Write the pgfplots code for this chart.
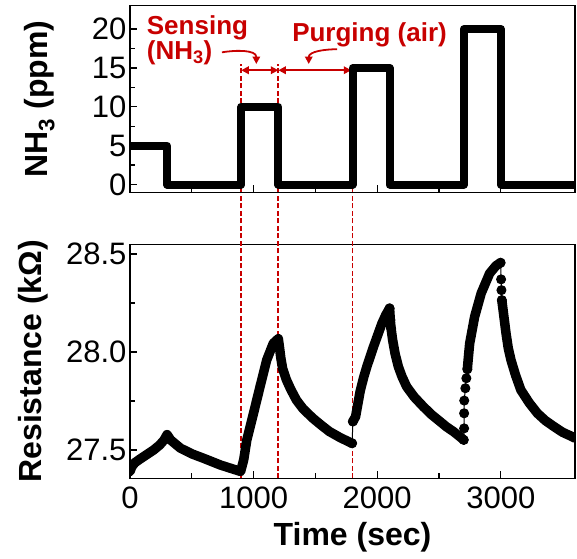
\documentclass[border=0pt]{standalone}
\usepackage{pgfplots}
\pgfplotsset{compat=1.18}
\usepackage{fontspec}
\setmainfont{Liberation Sans}
\usetikzlibrary{arrows.meta}
\definecolor{myred}{RGB}{200,0,0}

\begin{document}
\begin{tikzpicture}
\pgfplotsset{
  every axis/.append style={
    scale only axis, width=445pt,
    xmin=0, xmax=3600,
    axis line style={line width=1.2pt},
    every tick/.style={line width=1.2pt, black},
    major tick length=7pt, minor tick length=5pt,
    tick align=inside, tick pos=left,
    /pgf/number format/assume math mode=true,
    /pgf/number format/1000 sep={},
    tick label style={font=\fontsize{31}{36}\selectfont},
    label style={font=\bfseries\fontsize{32}{38}\selectfont},
    xtick={0,1000,2000,3000}, minor x tick num=1,
    clip mode=individual,
  },
  band/.style={black, line width=9.5pt, line join=round, line cap=round},
  dots/.style={black, line width=1pt, mark=*, mark size=4.5pt},
}
% ---------------- bottom axis ----------------
\begin{axis}[
  at={(0pt,0pt)}, height=234pt,
  ymin=27.355, ymax=28.55,
  ytick={27.5,28.0,28.5}, minor y tick num=1,
  yticklabel style={/pgf/number format/.cd, fixed, fixed zerofill, precision=1},
  xticklabel style={yshift=-5pt},
  ylabel={Resistance (kΩ)},
  ylabel style={at={(axis description cs:-0.198,0.5)}, anchor=base, rotate=0},
  xlabel={Time (sec)},
  xlabel style={at={(axis description cs:0.5,-0.289)}, anchor=base},
]
\draw[myred, line width=1.8pt, dash pattern=on 5pt off 2.5pt] (axis cs:900,27.355) -- (axis cs:900,29.47);
\draw[myred, line width=1.8pt, dash pattern=on 5pt off 2.5pt] (axis cs:1200,27.355) -- (axis cs:1200,29.47);
\draw[myred, line width=1.8pt, dash pattern=on 5pt off 2.5pt] (axis cs:1800,27.355) -- (axis cs:1800,29.47);
% thick band segments
\addplot[band] coordinates {
(0,27.390) (15,27.415) (40,27.435) (85,27.455) (140,27.478) (192,27.500)
(240,27.525) (275,27.550) (300,27.578) (330,27.550) (408,27.509) (500,27.480)
(596,27.457) (731,27.423) (820,27.405) (895,27.390) (920,27.450) (945,27.551)
(999,27.687) (1052,27.823) (1106,27.959) (1159,28.044) (1200,28.068)
(1210,28.020) (1220,27.970) (1235,27.915) (1266,27.857) (1300,27.810)
(1346,27.755) (1400,27.710) (1479,27.662) (1550,27.625) (1613,27.594)
(1700,27.563) (1795,27.534)
};
\addplot[band] coordinates {
(1803,27.645) (1825,27.670) (1845,27.740) (1862,27.800) (1890,27.870) (1916,27.925)
(1970,28.027) (2038,28.146) (2070,28.190) (2100,28.223) (2106,28.163) (2112,28.121)
(2125,28.060) (2145,27.990) (2171,27.925) (2200,27.875) (2238,27.823) (2300,27.770)
(2373,27.721) (2440,27.680) (2508,27.645) (2560,27.618) (2616,27.594) (2660,27.572)
(2700,27.551)
};
\addplot[band] coordinates {
(2729,27.912) (2737,27.970) (2748,28.044) (2788,28.180) (2841,28.300) (2909,28.401)
(2960,28.440) (2998,28.456)
};
\addplot[band] coordinates {
(3008,28.265) (3025,28.180) (3042,28.095) (3060,28.020) (3082,27.959) (3120,27.880)
(3162,27.806) (3230,27.740) (3296,27.687) (3360,27.650) (3430,27.619) (3500,27.590)
(3576,27.568) (3600,27.560)
};
% separated markers
\addplot[dots] coordinates {
(1797,27.534) (1803,27.645)
};
\addplot[dots] coordinates {
(2100,28.223) (2106,28.163) (2112,28.121)
};
\addplot[dots] coordinates {
(2700,27.551) (2703,27.610) (2703,27.687) (2704,27.752) (2713,27.815) (2721,27.866)
(2729,27.912)
};
\addplot[dots] coordinates {
(2998,28.456) (3002,28.371) (3005,28.316) (3008,28.265)
};
\end{axis}
% ---------------- top axis ----------------
\begin{axis}[
  at={(0pt,286pt)}, height=186.6pt,
  ymin=-1, ymax=23,
  ytick={0,5,10,15,20}, minor y tick num=1,
  xticklabels={},
  ylabel={NH\textsubscript{3} (ppm)},
  ylabel style={at={(axis description cs:-0.186,0.5)}, anchor=base},
]
\draw[myred, line width=1.8pt, {Triangle[length=7.5pt,width=7.5pt]}-{Triangle[length=7.5pt,width=7.5pt]}] (axis cs:900,14.7) -- (axis cs:1200,14.7);
\draw[myred, line width=1.8pt, {Triangle[length=7.5pt,width=7.5pt]}-{Triangle[length=7.5pt,width=7.5pt]}] (axis cs:1200,14.7) -- (axis cs:1790,14.7);
\draw[myred, line width=1.8pt, -{Triangle[length=7.5pt,width=7.5pt]}] (axis cs:744,17.0) to[out=10, in=90] (axis cs:1022,15.5);
\draw[myred, line width=1.8pt, -{Triangle[length=7.5pt,width=7.5pt]}] (axis cs:1676,17.4) to[out=180, in=90] (axis cs:1446,15.5);
\node[myred, anchor=base west, inner sep=0pt, font=\bfseries\fontsize{26}{30}\selectfont] at (axis cs:135,19.35) {Sensing};
\node[myred, anchor=base west, inner sep=0pt, font=\bfseries\fontsize{26}{30}\selectfont] at (axis cs:135,16.05) {(NH\textsubscript{3})};
\node[myred, anchor=base west, inner sep=0pt, font=\bfseries\fontsize{26}{30}\selectfont] at (axis cs:1311,18.4) {Purging (air)};
\addplot[black, line width=8pt, line join=round] coordinates {
(0,5) (300,5) (300,0) (900,0) (900,10) (1200,10) (1200,0) (1800,0) (1800,15)
(2100,15) (2100,0) (2700,0) (2700,20) (3000,20) (3000,0) (3600,0)
};
\end{axis}
\pgfresetboundingbox
\useasboundingbox (-130pt,-79.7pt) rectangle (447pt,478.3pt);
\end{tikzpicture}
\end{document}
